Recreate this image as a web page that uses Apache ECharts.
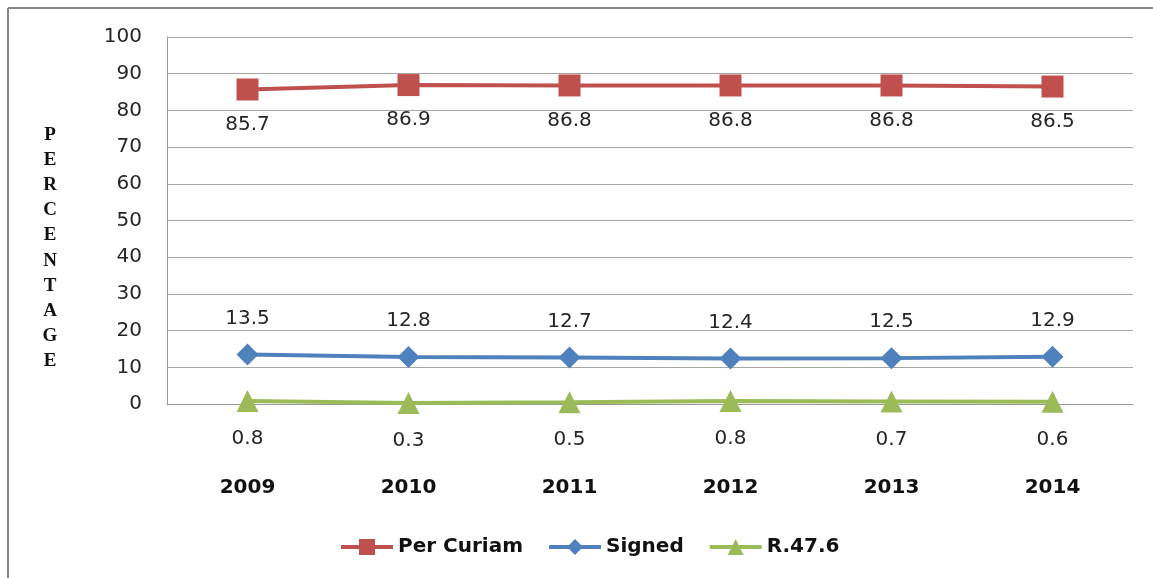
<!DOCTYPE html>
<html>
<head>
<meta charset="utf-8">
<style>
html,body{margin:0;padding:0;background:#fff;}
#chart{width:1153px;height:578px;}
</style>
<script src="https://cdn.jsdelivr.net/npm/echarts@6/dist/echarts.min.js"></script>
</head>
<body>
<div id="chart"></div>
<script>
const years = ['2009','2010','2011','2012','2013','2014'];
const perCuriam = [85.7, 86.9, 86.8, 86.8, 86.8, 86.5];
const signed = [13.5, 12.8, 12.7, 12.4, 12.5, 12.9];
const r476 = [0.8, 0.3, 0.5, 0.8, 0.7, 0.6];
const yAxisName = 'PERCENTAGE';

const chart = echarts.init(document.getElementById('chart'));
const FONT = '"DejaVu Sans", sans-serif';
const labelFont = {fontFamily: FONT, fontSize: 20, color: '#262626'};

function mkSeries(name, data, color, symbol, size, offY) {
  return {
    name: name, type: 'line', data: data,
    symbol: symbol, symbolSize: size,
    lineStyle: {color: color, width: 4},
    itemStyle: {color: color},
    label: Object.assign({show: true, position: 'inside', offset: [0, offY],
      formatter: p => p.value.toFixed(1)}, labelFont),
    emphasis: {disabled: true}
  };
}

chart.setOption({
  animation: false,
  backgroundColor: '#fff',
  grid: {left: 167, right: 20, top: 37, bottom: 174},
  xAxis: {
    type: 'category', data: years, boundaryGap: true,
    axisLine: {lineStyle: {color: '#999', width: 1}},
    axisTick: {show: false},
    axisLabel: {margin: 74, fontFamily: FONT, fontSize: 20, fontWeight: 'bold', color: '#111'}
  },
  yAxis: {
    type: 'value', min: 0, max: 100, interval: 10,
    axisLine: {show: true, lineStyle: {color: '#999', width: 1}},
    axisTick: {show: false},
    splitLine: {lineStyle: {color: '#a6a6a6', width: 1}},
    axisLabel: {margin: 25, fontFamily: FONT, fontSize: 20, color: '#262626'}
  },
  legend: {
    left: 334, top: 532,
    itemWidth: 52, itemHeight: 20, itemGap: 24,
    lineStyle: {width: 4},
    textStyle: {fontFamily: FONT, fontSize: 20, fontWeight: 'bold', color: '#111'},
    data: ['Per Curiam', 'Signed', 'R.47.6']
  },
  graphic: [
    {type: 'line', shape: {x1: 8, y1: 8, x2: 1153, y2: 8}, style: {stroke: '#888', lineWidth: 2}},
    {type: 'line', shape: {x1: 8, y1: 8, x2: 8, y2: 578}, style: {stroke: '#888', lineWidth: 2}},
    {type: 'text', x: 50, y: 122,
      style: {text: yAxisName.split('').join('\n'), font: 'bold 19px "Liberation Serif", serif',
        lineHeight: 25.2, fill: '#111', align: 'center'}}
  ],
  series: [
    mkSeries('Per Curiam', perCuriam, '#C0504D', 'rect', 22, 35),
    mkSeries('Signed', signed, '#4F81BD', 'diamond', 22, -36),
    mkSeries('R.47.6', r476, '#9BBB59', 'triangle', 22, 38)
  ]
});
</script>
</body>
</html>
